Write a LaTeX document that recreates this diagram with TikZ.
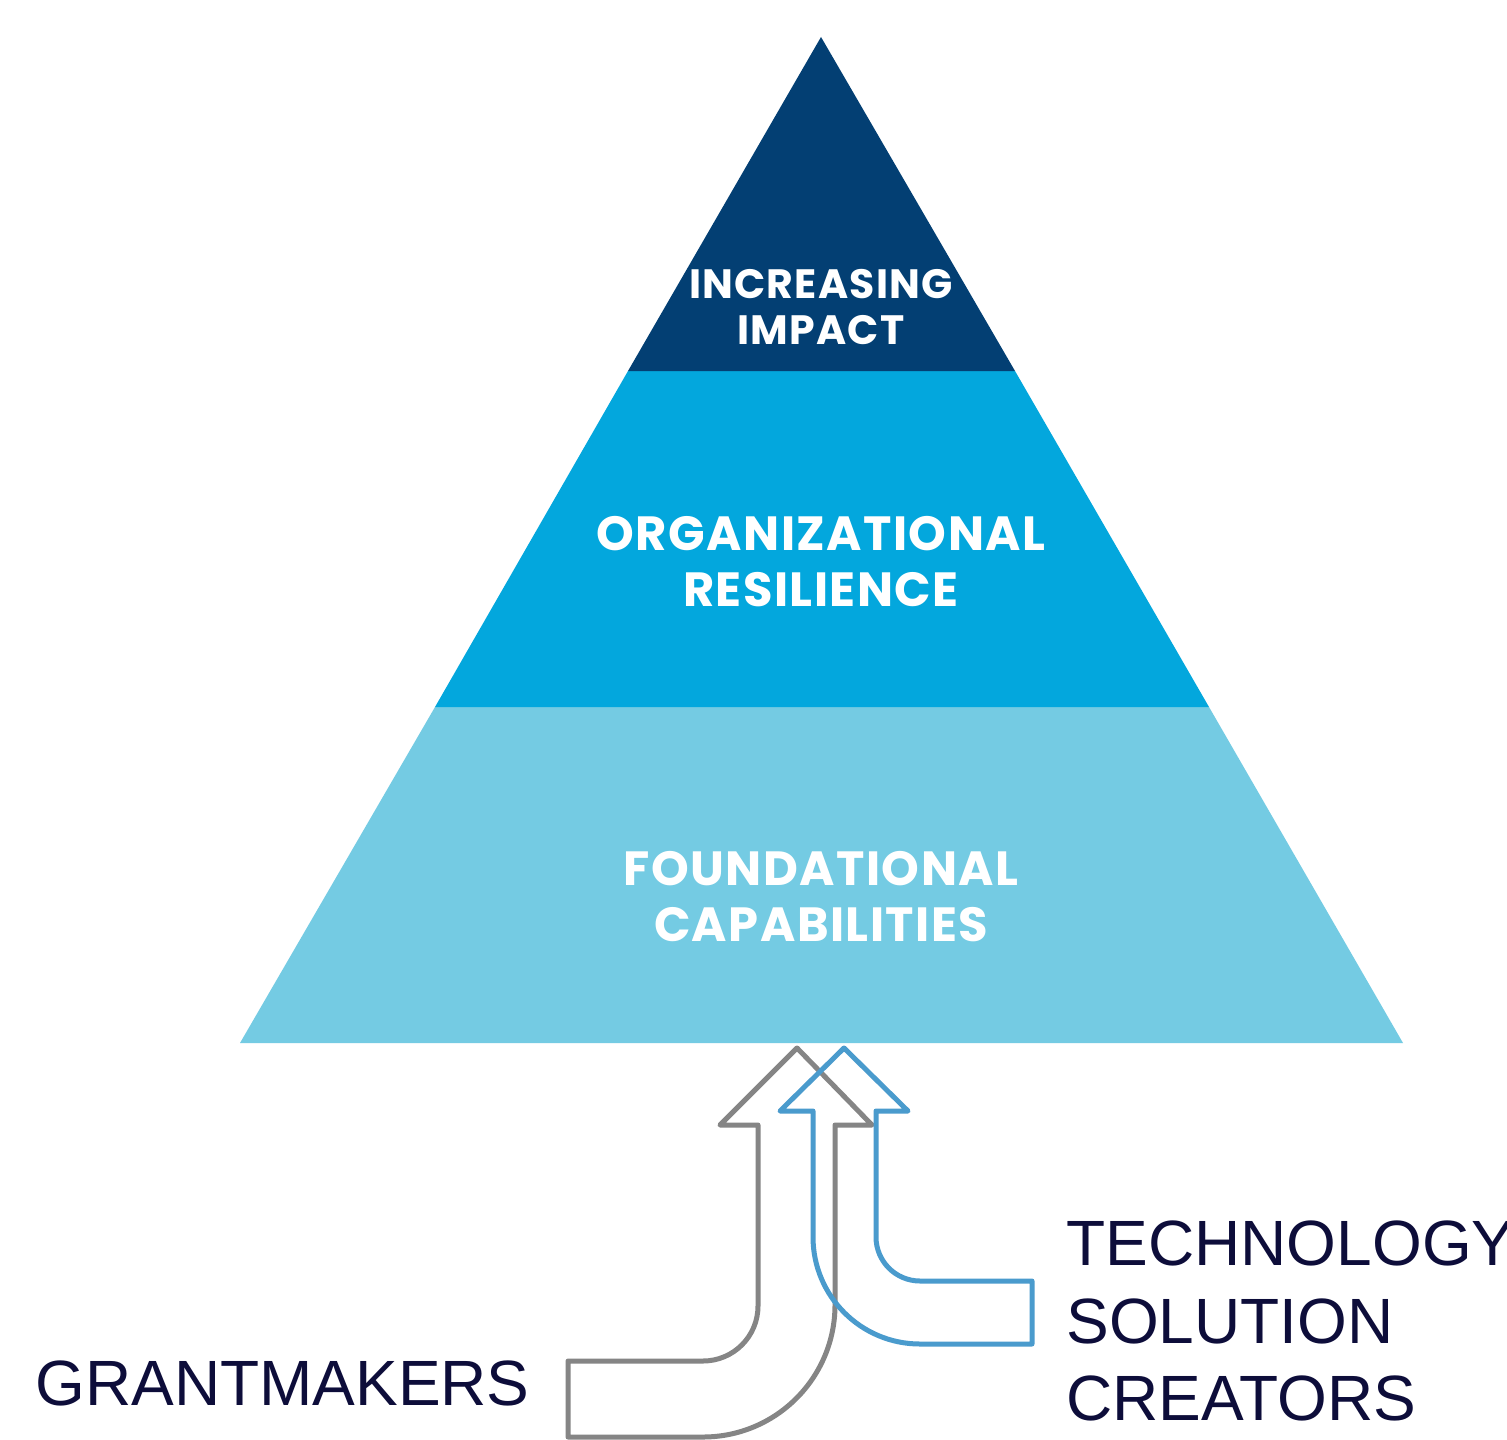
\documentclass[tikz,border=0pt]{standalone}
\usepackage{fontspec}
\newfontfamily\pyrfont[LetterSpace=3]{Poppins}
\newfontfamily\labfont{Liberation Sans}
\definecolor{tierA}{HTML}{033F73}
\definecolor{tierB}{HTML}{03A7DD}
\definecolor{tierC}{HTML}{74CBE3}
\definecolor{arrGrey}{HTML}{858585}
\definecolor{arrBlue}{HTML}{4A9BCD}
\definecolor{labInk}{HTML}{0D0D3A}
\begin{document}
\begin{tikzpicture}[x=0.5pt,y=-0.5pt,
  pyrtxt/.style={text=white,inner sep=0pt,anchor=base,font=\pyrfont\bfseries\fontsize{24}{28}\selectfont},
  pyrtxtsm/.style={pyrtxt,font=\pyrfont\bfseries\fontsize{20.5}{24}\selectfont},
  labtxt/.style={text=labInk,inner sep=0pt,anchor=base west,font=\labfont\fontsize{32}{38.75}\selectfont},
  arrowline/.style={line width=2.5pt,line join=round,line cap=round}]
\useasboundingbox[fill=white] (0,0) rectangle (1507,1439);
% pyramid tiers
\fill[tierC] (435,707) -- (1209,707) -- (1403,1043) -- (240,1043) -- cycle;
\fill[tierB] (628,371) -- (1015,371) -- (1209,707) -- (435,707) -- cycle;
\fill[tierA] (821,37) -- (1015,371) -- (628,371) -- cycle;
% tier texts
\node[pyrtxtsm] (t1a) at (821,298) {INCREASING};
\node[pyrtxtsm] (t1b) at (821,344) {IMPACT};
\node[pyrtxt] (t2a) at (821,550) {ORGANIZATIONAL};
\node[pyrtxt] (t2b) at (821,606) {RESILIENCE};
\node[pyrtxt] (t3a) at (821,885) {FOUNDATIONAL};
\node[pyrtxt] (t3b) at (821,941) {CAPABILITIES};
% grey arrow (grantmakers)
\draw[arrowline,arrGrey] (568,1361) -- (703,1361)
  arc[start angle=90,end angle=0,radius=55] -- (758,1125) -- (720,1125)
  -- (797,1048) -- (872,1125) -- (835,1125) -- (835,1305)
  arc[start angle=0,end angle=90,radius=132] -- (568,1437) -- cycle;
% blue arrow (technology solution creators)
\draw[arrowline,arrBlue] (1032,1281) -- (920,1281)
  arc[start angle=90,end angle=180,radius=44] -- (876,1111) -- (908,1111)
  -- (844,1048) -- (780,1111) -- (813,1111) -- (813,1237)
  arc[start angle=180,end angle=90,radius=107] -- (1032,1344) -- cycle;
% labels
\node[labtxt] (grant) at (35,1405) {GRANTMAKERS};
\node[labtxt] (tech1) at (1066,1265) {TECHNOLOGY};
\node[labtxt] (tech2) at (1066,1343) {SOLUTION};
\node[labtxt] (tech3) at (1066,1420) {CREATORS};
\end{tikzpicture}
\end{document}
